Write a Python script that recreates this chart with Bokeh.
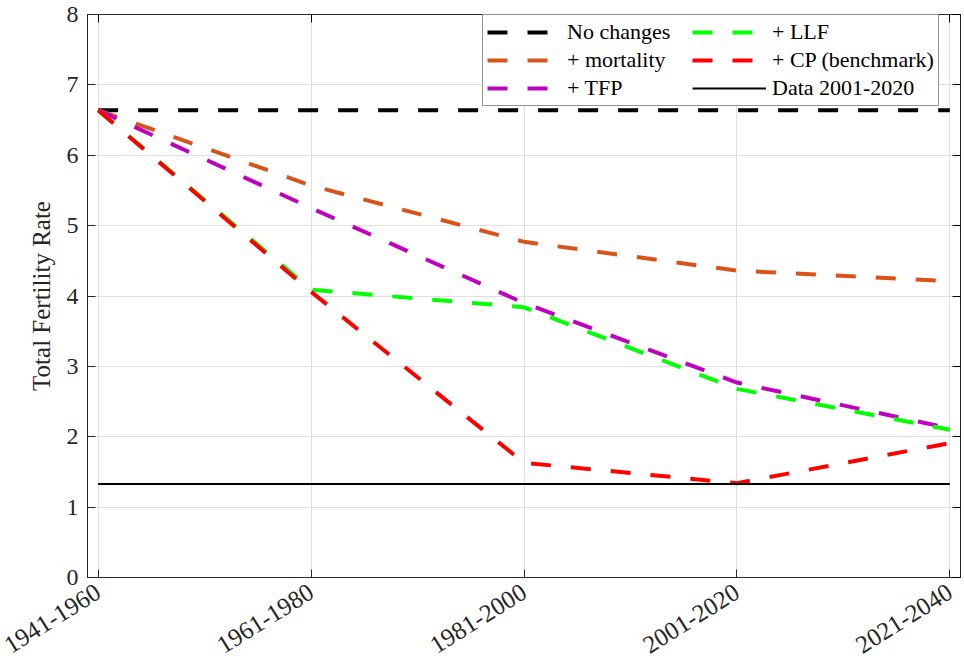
from bokeh.plotting import figure
from bokeh.models import Range1d, FixedTicker, LinearAxis, Legend, LegendItem, CustomJSTickFormatter
from bokeh.embed import file_html
from bokeh.resources import INLINE

periods = ["1941-1960", "1961-1980", "1981-2000", "2001-2020", "2021-2040"]
no_changes = [6.64, 6.64, 6.64, 6.64, 6.64]
mortality = [6.64, 5.57, 4.77, 4.36, 4.21]
tfp = [6.64, 5.25, 3.90, 2.77, 2.12]
llf = [6.64, 4.09, 3.84, 2.68, 2.10]
cp = [6.64, 4.06, 1.63, 1.34, 1.91]
data_2001_2020 = [1.33, 1.33, 1.33, 1.33, 1.33]
y_ticks = [0, 1, 2, 3, 4, 5, 6, 7, 8]

FONT = "Liberation Serif"
x = list(range(len(periods)))

p = figure(width=964, height=668, output_backend="svg", toolbar_location=None,
           x_range=Range1d(-0.05, len(periods) - 1 + 0.05), y_range=Range1d(0, 8),
           min_border_left=87, min_border_right=4, min_border_top=14, min_border_bottom=91)
p.outline_line_color = "black"
p.outline_line_width = 1
p.background_fill_color = "white"
p.border_fill_color = "white"

# axes
p.xaxis.ticker = FixedTicker(ticks=x)
p.xaxis.major_label_overrides = {i: lab for i, lab in enumerate(periods)}
p.xaxis.major_label_orientation = 0.56
p.yaxis.ticker = FixedTicker(ticks=y_ticks)
p.yaxis.axis_label = "Total Fertility Rate"
for ax in [p.xaxis[0], p.yaxis[0]]:
    ax.major_label_text_font = FONT
    ax.major_label_text_font_size = "24px"
    ax.major_label_text_color = "#262626"
    ax.axis_line_color = "#262626"
    ax.major_tick_line_color = "#262626"
    ax.major_tick_in = 8
    ax.major_tick_out = 0
    ax.minor_tick_line_color = None
    ax.axis_label_text_font = FONT
    ax.axis_label_text_font_size = "25px"
    ax.axis_label_text_font_style = "normal"
    ax.axis_label_text_color = "#262626"
    ax.axis_label_standoff = 9
p.xaxis.major_label_text_font_size = "25px"
p.xaxis.major_label_standoff = 12
p.yaxis.major_label_standoff = 9

# mirrored axes (box), ticks only
blank = CustomJSTickFormatter(code="return ''")
right_ax = LinearAxis(ticker=FixedTicker(ticks=y_ticks), formatter=blank,
                      major_tick_in=8, major_tick_out=0, minor_tick_line_color=None,
                      major_label_standoff=0, axis_line_color="#262626")
top_ax = LinearAxis(ticker=FixedTicker(ticks=x), formatter=blank,
                    major_tick_in=8, major_tick_out=0, minor_tick_line_color=None,
                    major_label_standoff=0, axis_line_color="#262626")
p.add_layout(right_ax, "right")
p.add_layout(top_ax, "above")

# grid
p.xgrid.ticker = FixedTicker(ticks=x)
p.ygrid.ticker = FixedTicker(ticks=y_ticks)
p.xgrid.grid_line_color = "#e0e0e0"
p.ygrid.grid_line_color = "#e0e0e0"

dash = "20 20"
r_nc = p.line(x, no_changes, line_color="black", line_width=4, line_dash=dash)
r_mo = p.line(x, mortality, line_color="#D95319", line_width=4, line_dash=dash)
r_tfp = p.line(x, tfp, line_color="#BF00BF", line_width=4, line_dash=dash)
r_llf = p.line(x, llf, line_color="#00FF00", line_width=4, line_dash=dash)
r_cp = p.line(x, cp, line_color="#FF0000", line_width=4, line_dash=dash)
r_data = p.line(x, data_2001_2020, line_color="black", line_width=2)

legend = Legend(items=[
    LegendItem(label="No changes", renderers=[r_nc]),
    LegendItem(label="+ mortality", renderers=[r_mo]),
    LegendItem(label="+ TFP", renderers=[r_tfp]),
    LegendItem(label="+ LLF", renderers=[r_llf]),
    LegendItem(label="+ CP (benchmark)", renderers=[r_cp]),
    LegendItem(label="Data 2001-2020", renderers=[r_data]),
], location=(395, 471), ncols=2)
legend.label_text_font = FONT
legend.label_text_font_size = "22px"
legend.label_text_color = "black"
legend.glyph_width = 74
legend.glyph_height = 20
legend.label_standoff = 6
legend.label_width = 123
legend.label_height = 20
legend.spacing = 2
legend.padding = 4
legend.margin = 0
legend.border_line_color = "#262626"
legend.border_line_width = 1
legend.background_fill_color = "white"
legend.background_fill_alpha = 1
p.add_layout(legend, "center")

open("out.html", "w").write(file_html(p, INLINE))
